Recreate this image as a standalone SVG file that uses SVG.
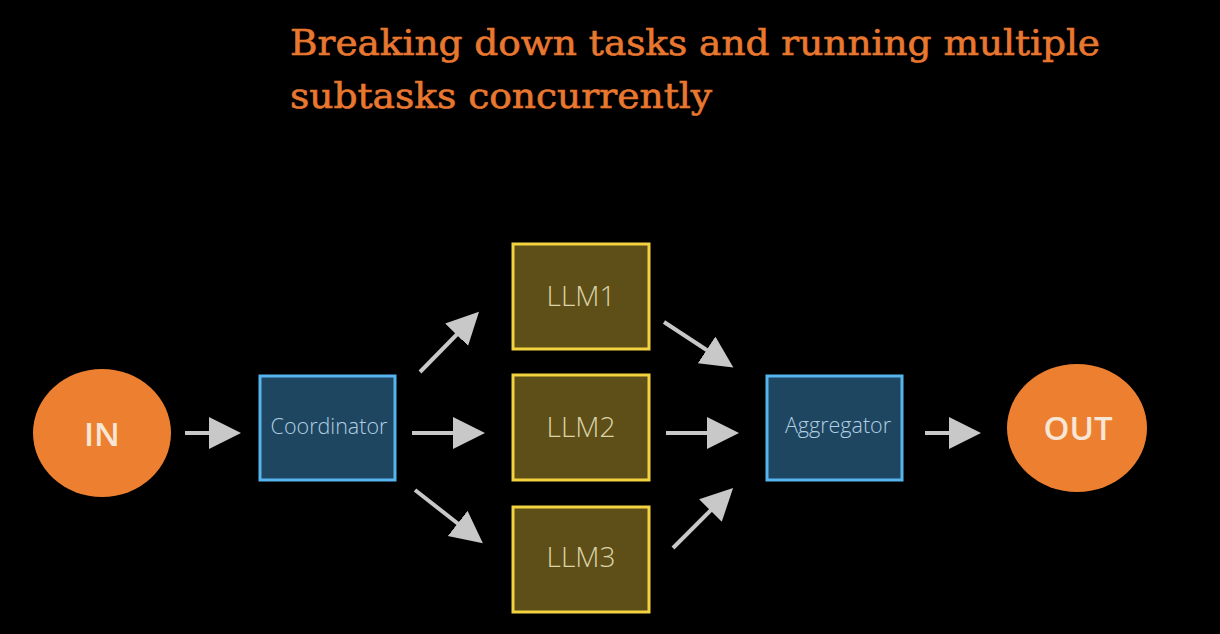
<svg xmlns="http://www.w3.org/2000/svg" width="1220" height="634" viewBox="0 0 1220 634">
  <style>
    .title{font-family:"DejaVu Serif Condensed","DejaVu Serif","Liberation Serif",serif;font-size:36px;fill:#e8772f;stroke:#e8772f;stroke-width:0.6}
    .term{fill:#ec8030}
    .termtxt{font-family:"Open Sans","Noto Sans","Liberation Sans",sans-serif;font-weight:600;font-size:33px;fill:#f7e6d6;text-anchor:middle}
    .blue{fill:#1f4660;stroke:#56b4ee;stroke-width:3}
    .bluetxt{font-family:"Open Sans","Noto Sans","Liberation Sans",sans-serif;font-weight:300;font-size:21.5px;fill:#b0cfe2;text-anchor:middle}
    .llm{fill:#5e4f19;stroke:#f2d23e;stroke-width:3}
    .llmtxt{font-family:"Open Sans","Noto Sans","Liberation Sans",sans-serif;font-weight:300;font-size:28px;fill:#dcd3a6;text-anchor:middle}
    .conn{stroke:#c8c8c8;stroke-width:4;fill:none;marker-end:url(#ah)}
  </style>
  <defs>
    <marker id="ah" markerUnits="userSpaceOnUse" markerWidth="34" markerHeight="34" refX="22" refY="16" orient="auto">
      <path d="M0,0 L32,16 L0,32 Z" fill="#c8c8c8"/>
    </marker>
  </defs>
  <rect width="1220" height="634" fill="#000"/>
  <g id="title">
    <text class="title" x="290" y="55" textLength="810" lengthAdjust="spacingAndGlyphs">Breaking down tasks and running multiple</text>
    <text class="title" x="290" y="108" textLength="422" lengthAdjust="spacingAndGlyphs">subtasks concurrently</text>
  </g>
  <g id="connectors">
    <path class="conn" d="M185,433 L231,433"/>
    <path class="conn" d="M412,433 L475,433"/>
    <path class="conn" d="M420,372 L472,319"/>
    <path class="conn" d="M415,490 L475,537"/>
    <path class="conn" d="M664,322 L725,362"/>
    <path class="conn" d="M666,433 L729,433"/>
    <path class="conn" d="M673,548 L726,495"/>
    <path class="conn" d="M925,433 L971,433"/>
  </g>
  <g id="in">
    <ellipse class="term" cx="102" cy="433" rx="69" ry="64"/>
    <text class="termtxt" x="102" y="446">IN</text>
  </g>
  <g id="coordinator">
    <rect class="blue" x="260" y="376" width="135" height="104"/>
    <text class="bluetxt" x="329" y="434">Coordinator</text>
  </g>
  <g id="llm1">
    <rect class="llm" x="513" y="244" width="136" height="105"/>
    <text class="llmtxt" x="581" y="306">LLM1</text>
  </g>
  <g id="llm2">
    <rect class="llm" x="513" y="375" width="136" height="105"/>
    <text class="llmtxt" x="581" y="437">LLM2</text>
  </g>
  <g id="llm3">
    <rect class="llm" x="513" y="507" width="136" height="105"/>
    <text class="llmtxt" x="581" y="567">LLM3</text>
  </g>
  <g id="aggregator">
    <rect class="blue" x="767" y="376" width="135" height="104"/>
    <text class="bluetxt" x="838" y="433">Aggregator</text>
  </g>
  <g id="out">
    <ellipse class="term" cx="1077" cy="428" rx="70" ry="64"/>
    <text class="termtxt" x="1078" y="440">OUT</text>
  </g>
</svg>
